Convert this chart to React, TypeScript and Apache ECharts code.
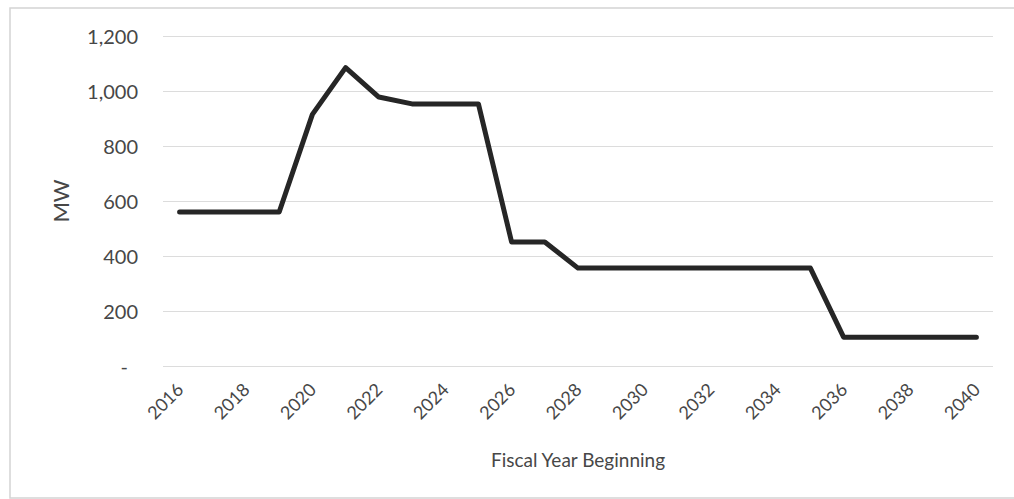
import React, { useEffect, useRef } from "react";
import * as echarts from "echarts";

const years: string[] = [
  "2016", "2017", "2018", "2019", "2020", "2021", "2022", "2023", "2024", "2025",
  "2026", "2027", "2028", "2029", "2030", "2031", "2032", "2033", "2034", "2035",
  "2036", "2037", "2038", "2039", "2040",
];
const mw: number[] = [
  560, 560, 560, 560, 915, 1085, 978, 953, 953, 953,
  451, 451, 356, 356, 356, 356, 356, 356, 356, 356,
  105, 105, 105, 105, 105,
];

const FONT = "Lato, 'Open Sans', sans-serif";
const TXT = "#474747";

export default function App() {
  const ref = useRef<HTMLDivElement>(null);
  useEffect(() => {
    if (!ref.current) return;
    const chart = echarts.init(ref.current, undefined, { renderer: "svg" });
    chart.setOption({
      animation: false,
      backgroundColor: "#ffffff",
      graphic: [
        {
          type: "polyline",
          shape: { points: [[1014, 8], [10, 8], [10, 498], [1014, 498]] },
          style: { fill: "none", stroke: "#d4d4d4", lineWidth: 1.5 },
          silent: true,
        },
      ],
      grid: { left: 163, right: 21, top: 36, bottom: 133, containLabel: false },
      xAxis: {
        type: "category",
        data: years,
        boundaryGap: true,
        name: "Fiscal Year Beginning",
        nameLocation: "middle",
        nameGap: 84,
        nameTextStyle: { fontFamily: FONT, fontSize: 19, color: TXT },
        axisLine: { show: false },
        axisTick: { show: false },
        axisLabel: {
          interval: 1,
          rotate: 45,
          margin: 20,
          fontFamily: FONT,
          fontSize: 18,
          color: TXT,
        },
      },
      yAxis: {
        type: "value",
        min: 0,
        max: 1200,
        interval: 200,
        name: "MW",
        nameLocation: "middle",
        nameGap: 92,
        nameTextStyle: { fontFamily: FONT, fontSize: 22, color: TXT },
        axisLine: { show: false },
        axisTick: { show: false },
        splitLine: { lineStyle: { color: "#dcdcdc", width: 1 } },
        axisLabel: {
          margin: 25,
          fontFamily: FONT,
          fontSize: 20,
          color: TXT,
          formatter: (v: number) =>
            v === 0 ? "{d|-}" : v.toLocaleString("en-US"),
          rich: {
            d: { fontFamily: FONT, fontSize: 20, color: TXT, padding: [0, 10, 0, 0] },
          },
        },
      },
      series: [
        {
          type: "line",
          data: mw,
          symbol: "none",
          lineStyle: { color: "#262626", width: 5, join: "round", cap: "round" },
        },
      ],
    });
    return () => chart.dispose();
  }, []);
  return (
    <div
      ref={ref}
      style={{ position: "fixed", left: 0, top: 0, width: 1014, height: 499 }}
    />
  );
}
